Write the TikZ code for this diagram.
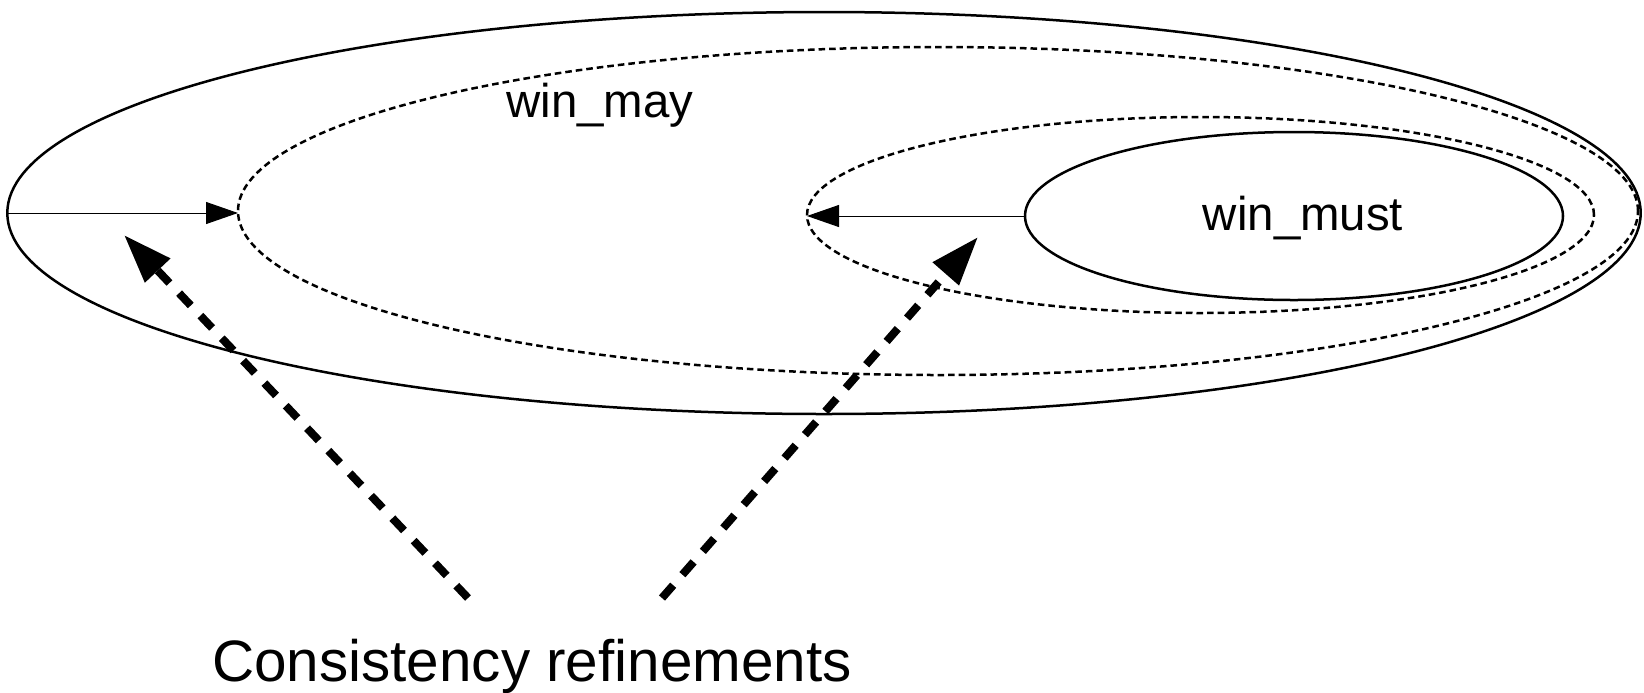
\documentclass[tikz,border=0pt]{standalone}
\usepackage{fontspec}
\setmainfont{Liberation Sans}
\usetikzlibrary{shapes.geometric,arrows.meta}
\begin{document}
\begin{tikzpicture}[x=0.5pt,y=-0.5pt,
  solidell/.style={ellipse,draw,line width=1.25pt,inner sep=0pt,outer sep=0pt},
  dotell/.style={ellipse,draw,line width=1.25pt,dash pattern=on 3.3pt off 2pt,inner sep=0pt,outer sep=0pt},
  thinarrow/.style={line width=0.5pt,-{Triangle[length=16pt,width=11pt]}},
  bigarrow/.style={line width=4pt,dash pattern=on 8.5pt off 7pt,-{Triangle[length=24.5pt,width=16.5pt]}},
  lbl/.style={font=\fontsize{23.7pt}{28pt}\selectfont,anchor=base,inner sep=0pt},
  biglbl/.style={font=\fontsize{29.2pt}{34pt}\selectfont,anchor=base,inner sep=0pt}]
\useasboundingbox (0,0) rectangle (1644,692);
\node[solidell,minimum width=816.7pt,minimum height=201pt] (outer) at (824,213) {};
\node[dotell,minimum width=700pt,minimum height=164pt] (may) at (938,211) {};
\node[dotell,minimum width=393.5pt,minimum height=98pt] (inner) at (1200.5,215) {};
\node[solidell,minimum width=269pt,minimum height=84pt] (must) at (1294,216) {};
\node[lbl] (maylbl) at (600,117) {win\_may};
\node[lbl] (mustlbl) at (1303,230) {win\_must};
\node[biglbl] (cons) at (532,681) {Consistency refinements};
\draw[thinarrow] (outer.west) -- (outer.west -| may.west);
\draw[thinarrow] (must.west) -- (must.west -| inner.west);
\coordinate (s1) at (468,598);
\coordinate (e1) at (124,235);
\coordinate (s2) at (662,598);
\coordinate (e2) at (978,237);
\draw[bigarrow] (s1) -- (e1);
\draw[bigarrow] (s2) -- (e2);
\end{tikzpicture}
\end{document}
